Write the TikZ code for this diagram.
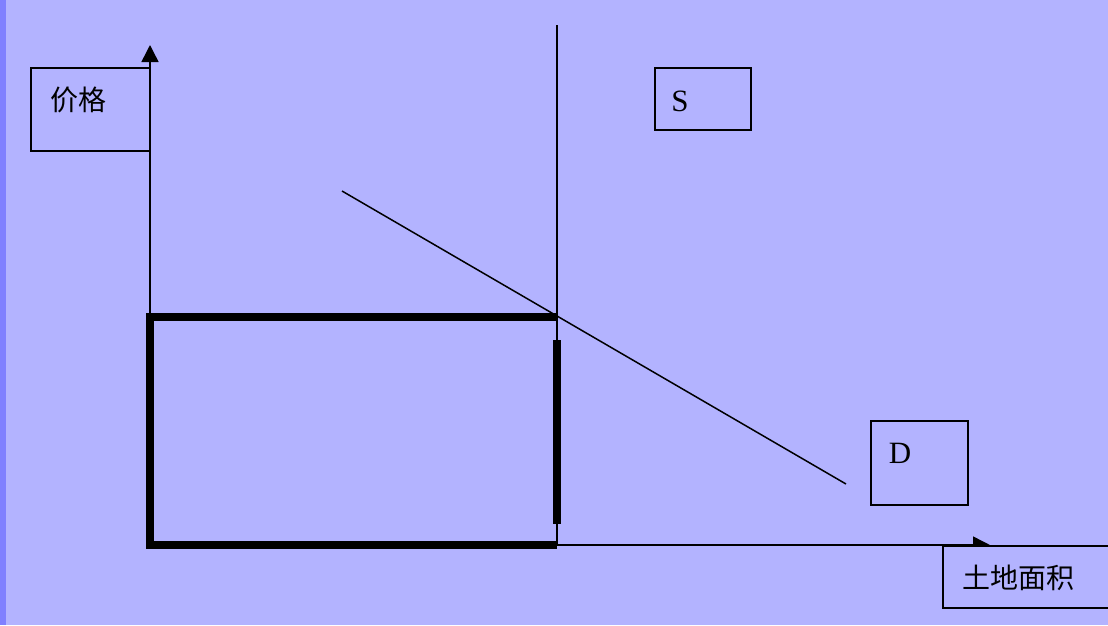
\documentclass[tikz,border=0pt]{standalone}
\usepackage{fontspec}
\setmainfont{Liberation Serif}
\newfontfamily\cjk{Noto Sans CJK SC}
\usetikzlibrary{arrows.meta}
\definecolor{bgblue}{HTML}{B3B3FF}
\definecolor{edgeblue}{HTML}{8080FF}

\begin{document}
\begin{tikzpicture}[x=1pt, y=-1pt, >={Triangle[width=17pt, length=17pt]},
  axisline/.style={line width=1.5pt},
  frame/.style={draw, line width=1.5pt, fill=bgblue, inner sep=0pt, anchor=north west},
  boldedge/.style={line width=7.5pt, line join=miter},
  cjklabel/.style={font=\cjk\fontsize{28}{30}\selectfont, inner sep=0pt},
  latinlabel/.style={font=\fontsize{31}{34}\selectfont, inner sep=0pt}]
  % background
  \fill[bgblue] (0,0) rectangle (1108,625);
  \fill[edgeblue] (0,0) rectangle (6,625);
  \useasboundingbox (0,0) rectangle (1108,625);

  \coordinate (O) at (150,545);
  \coordinate (ytop) at (150,45);
  \coordinate (xend) at (990,545);
  \coordinate (stop) at (557,25);
  \coordinate (sbot) at (557,545);
  \coordinate (E) at (557,317);
  \coordinate (dstart) at (342,191);
  \coordinate (dend) at (846,484);

  % axes
  \draw[->, axisline] (O) -- (ytop);
  \draw[->, axisline] (O) -- (xend);

  % supply and demand
  \draw[axisline] (stop) -- (sbot);
  \draw[axisline] (dstart) -- (dend);

  % land rent area
  \draw[boldedge] (E) -- (150,317) -- (O) -- (sbot);
  \draw[boldedge] (557,340) -- (557,524);

  % labels
  \node[frame, minimum width=119pt, minimum height=83pt] (pricebox) at (30,67) {};
  \node[cjklabel] (price) at (78,100) {价格};
  \node[frame, minimum width=96pt, minimum height=62pt] (sbox) at (654,67) {};
  \node[latinlabel] (slabel) at (680,101) {S};
  \node[frame, minimum width=97pt, minimum height=84pt] (dbox) at (870,420) {};
  \node[latinlabel] (dlabel) at (900,453) {D};
  \node[frame, minimum width=200pt, minimum height=62pt] (areabox) at (942,545) {};
  \node[cjklabel] (area) at (1018,578) {土地面积};
\end{tikzpicture}
\end{document}
